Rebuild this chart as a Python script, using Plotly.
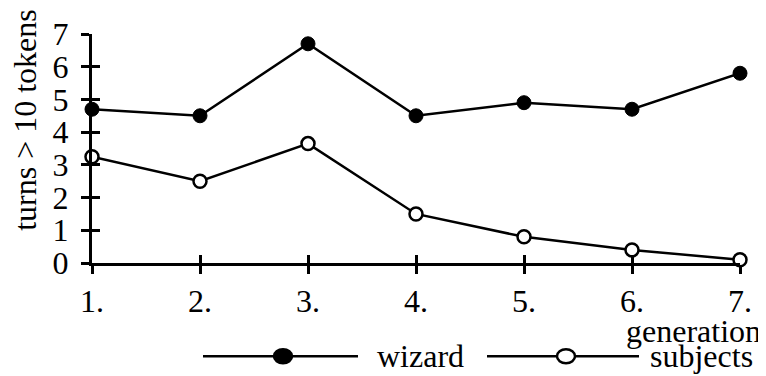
import plotly.graph_objects as go

generations = [1, 2, 3, 4, 5, 6, 7]
x_tick_labels = ["1.", "2.", "3.", "4.", "5.", "6.", "7."]
wizard = [4.7, 4.5, 6.7, 4.5, 4.9, 4.7, 5.8]
subjects = [3.25, 2.5, 3.65, 1.5, 0.8, 0.4, 0.1]
y_ticks = [0, 1, 2, 3, 4, 5, 6, 7]

FONT = "Liberation Serif"
FS = 32

# page has an 8px body margin; work in screen pixels and convert
OFF = 8
W, H = 766 - OFF, 376 - OFF
AX_L, AX_R, AX_T, AX_B = 92, 740, 34, 263.5  # screen pixels of the plot area
L = AX_L - OFF
T = AX_T - OFF
R = W - (AX_R - OFF)
B = H - (AX_B - OFF)

fig = go.Figure()
fig.add_trace(go.Scatter(
    x=generations, y=wizard, mode="lines+markers", name="wizard",
    line=dict(color="black", width=2.5),
    marker=dict(symbol="circle", size=14, color="black", line=dict(color="black", width=1)),
    cliponaxis=False, showlegend=False))
fig.add_trace(go.Scatter(
    x=generations, y=subjects, mode="lines+markers", name="subjects",
    line=dict(color="black", width=2.5),
    marker=dict(symbol="circle", size=13, color="white", line=dict(color="black", width=2.5)),
    cliponaxis=False, showlegend=False))
# empty trace on overlay axes to draw the inner half of crossing ticks
fig.add_trace(go.Scatter(x=[], y=[], xaxis="x2", yaxis="y2", showlegend=False))

fig.update_layout(
    width=W, height=H,
    margin=dict(l=L, r=R, t=T, b=B, autoexpand=False),
    plot_bgcolor="white", paper_bgcolor="white",
    font=dict(family=FONT, size=FS, color="black"),
    xaxis=dict(range=[1, 7], tickvals=generations, ticktext=x_tick_labels,
               showgrid=False, zeroline=False, showline=True, linecolor="black", linewidth=3,
               ticks="outside", ticklen=8, tickwidth=2.5, tickcolor="black",
               tickfont=dict(family=FONT, size=FS)),
    yaxis=dict(range=[0, 7], tickvals=y_ticks,
               showgrid=False, zeroline=False, showline=True, linecolor="black", linewidth=3,
               ticks="outside", ticklen=8, tickwidth=2.5, tickcolor="black",
               ticklabelstandoff=6,
               tickfont=dict(family=FONT, size=FS)),
    xaxis2=dict(range=[1, 7], tickvals=generations, overlaying="x", anchor="y2",
                showticklabels=False, showgrid=False, zeroline=False, showline=False,
                ticks="inside", ticklen=8, tickwidth=2.5, tickcolor="black"),
    yaxis2=dict(range=[0, 7], tickvals=y_ticks, overlaying="y", anchor="x2",
                showticklabels=False, showgrid=False, zeroline=False, showline=False,
                ticks="inside", ticklen=8, tickwidth=2.5, tickcolor="black"),
)

pw = W - L - R
ph = H - T - B

def px_x(p):
    return (p - OFF - L) / pw

def px_y(p):
    return (H - B - (p - OFF)) / ph

# axis titles
fig.add_annotation(text="turns > 10 tokens", textangle=-90, xref="paper", yref="paper",
                   x=px_x(25), y=px_y(120), xanchor="center", yanchor="middle",
                   showarrow=False, font=dict(family=FONT, size=FS))
fig.add_annotation(text="generation", xref="paper", yref="paper",
                   x=px_x(763), y=px_y(332), xanchor="right", yanchor="middle",
                   showarrow=False, font=dict(family=FONT, size=FS))

# custom legend
ly = px_y(357)
legend_items = [
    ("wizard", 203, 358, 283, 375, "black"),
    ("subjects", 487, 639, 566, 648, "white"),
]
for name, x0, x1, xm, xt, fill in legend_items:
    fig.add_shape(type="line", xref="paper", yref="paper", x0=px_x(x0), x1=px_x(x1),
                  y0=ly, y1=ly, line=dict(color="black", width=2.5))
    fig.add_shape(type="circle", xref="paper", yref="paper", xsizemode="pixel", ysizemode="pixel",
                  xanchor=px_x(xm), yanchor=ly, x0=-9, x1=9, y0=-7, y1=7,
                  fillcolor=fill, line=dict(color="black", width=2.5))
    fig.add_annotation(text=name, xref="paper", yref="paper", x=px_x(xt), y=ly,
                       xanchor="left", yanchor="middle", showarrow=False,
                       font=dict(family=FONT, size=FS))

fig.write_html("out.html")
